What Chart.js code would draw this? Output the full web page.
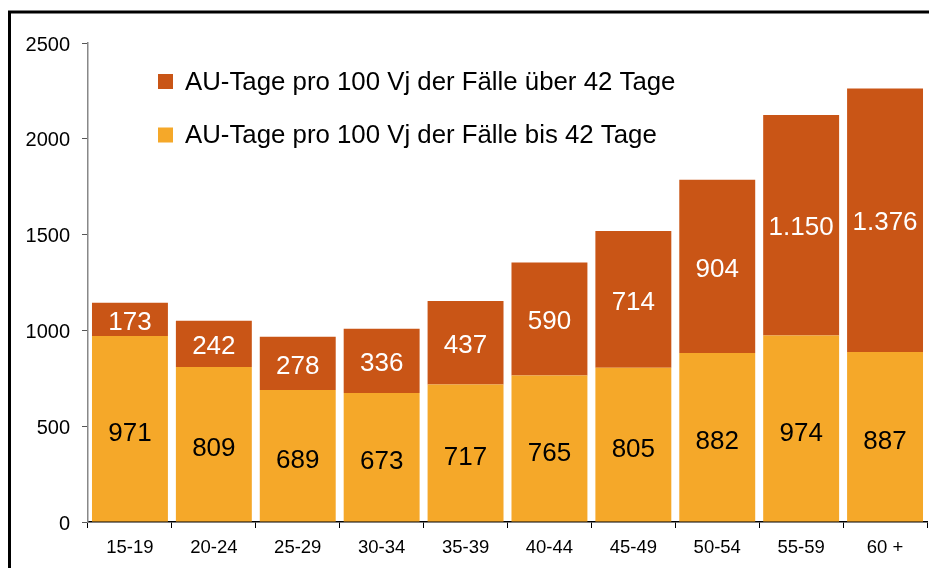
<!DOCTYPE html>
<html>
<head>
<meta charset="utf-8">
<script src="https://cdn.jsdelivr.net/npm/chart.js@4.4.1/dist/chart.umd.min.js"></script>
<style>
  html, body { margin: 0; padding: 0; background: #fff; }
  #wrap { position: relative; width: 929px; height: 568px; }
</style>
</head>
<body>
<div id="wrap"><canvas id="c" width="929" height="568"></canvas></div>
<script>
const categories = ['15-19', '20-24', '25-29', '30-34', '35-39', '40-44', '45-49', '50-54', '55-59', '60 +'];
const bis42 = [971, 809, 689, 673, 717, 765, 805, 882, 974, 887];
const ueber42 = [173, 242, 278, 336, 437, 590, 714, 904, 1150, 1376];
const seriesNames = ['AU-Tage pro 100 Vj der Fälle bis 42 Tage', 'AU-Tage pro 100 Vj der Fälle über 42 Tage'];
const yTicks = [0, 500, 1000, 1500, 2000, 2500];

const COL_LIGHT = '#F5A829';
const COL_DARK = '#C95516';
const FONT = '"Liberation Sans", Arial, sans-serif';

function fmtDE(v) {
  return String(Math.round(v)).replace(/\B(?=(\d{3})+(?!\d))/g, '.');
}

const labelPlugin = {
  id: 'segLabels',
  afterDatasetsDraw(chart) {
    const ctx = chart.ctx;
    ctx.save();
    ctx.font = '26px ' + FONT;
    ctx.textAlign = 'center';
    ctx.textBaseline = 'middle';
    chart.data.datasets.forEach((ds, di) => {
      const meta = chart.getDatasetMeta(di);
      meta.data.forEach((el, i) => {
        const p = el.getProps(['x', 'y', 'base'], true);
        ctx.fillStyle = di === 0 ? '#000' : '#fff';
        ctx.fillText(fmtDE(ds.data[i]), p.x, (p.y + p.base) / 2 + (di === 0 ? 5 : 3));
      });
    });
    ctx.restore();
  }
};

const legendPlugin = {
  id: 'innerLegend',
  afterDraw(chart) {
    const ctx = chart.ctx;
    ctx.save();
    const order = [1, 0];
    const ys = [81.5, 135];
    ctx.font = '25.8px ' + FONT;
    ctx.textBaseline = 'middle';
    ctx.textAlign = 'left';
    order.forEach((di, k) => {
      const ds = chart.data.datasets[di];
      ctx.fillStyle = ds.backgroundColor;
      ctx.fillRect(158, ys[k] - 7.5, 15, 15);
      ctx.fillStyle = '#000';
      ctx.fillText(ds.label, 185, ys[k] + 1);
    });
    ctx.restore();
  }
};

const framePlugin = {
  id: 'frame',
  afterDraw(chart) {
    const ctx = chart.ctx;
    ctx.save();
    ctx.strokeStyle = '#000';
    ctx.lineWidth = 3;
    ctx.beginPath();
    ctx.moveTo(9.5, 600);
    ctx.lineTo(9.5, 12);
    ctx.lineTo(960, 12);
    ctx.stroke();
    ctx.restore();
  }
};

new Chart(document.getElementById('c'), {
  type: 'bar',
  data: {
    labels: categories,
    datasets: [
      { label: seriesNames[0], data: bis42, backgroundColor: COL_LIGHT, borderWidth: 0 },
      { label: seriesNames[1], data: ueber42, backgroundColor: COL_DARK, borderWidth: 0 }
    ]
  },
  options: {
    responsive: false,
    animation: false,
    layout: { padding: { left: 0, right: 2, top: 43, bottom: 0 } },
    datasets: { bar: { barPercentage: 0.905, categoryPercentage: 1.0 } },
    plugins: { legend: { display: false }, tooltip: { enabled: false } },
    scales: {
      x: {
        stacked: true,
        grid: { display: true, drawOnChartArea: false, drawTicks: true, tickLength: 6, color: '#000', offset: true },
        border: { display: true, color: '#000', width: 1.5 },
        ticks: { color: '#000', font: { family: FONT, size: 18.5 }, padding: 9, maxRotation: 0 },
        afterFit(s) { s.height = 46; }
      },
      y: {
        stacked: true,
        min: 0, max: 2500,
        afterBuildTicks(s) { s.ticks = yTicks.map(v => ({ value: v })); },
        grid: { display: true, drawOnChartArea: false, drawTicks: true, tickLength: 6, color: '#555' },
        border: { display: true, color: '#888', width: 1.5 },
        ticks: { color: '#000', font: { family: FONT, size: 20 }, padding: 12, labelOffset: 2, callback: v => String(v) },
        afterFit(s) { s.width = 88; }
      }
    }
  },
  plugins: [labelPlugin, legendPlugin, framePlugin]
});
</script>
</body>
</html>
